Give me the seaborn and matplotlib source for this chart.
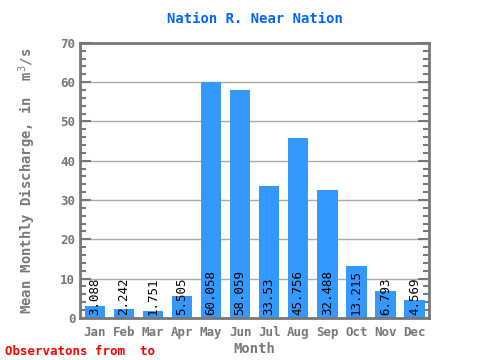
import numpy as np
import pandas as pd
import matplotlib
matplotlib.use('Agg')
import matplotlib.pyplot as plt
import seaborn as sns
from matplotlib.ticker import MultipleLocator

months = ['Jan', 'Feb', 'Mar', 'Apr', 'May', 'Jun', 'Jul', 'Aug', 'Sep', 'Oct', 'Nov', 'Dec']
discharge = [3.088, 2.242, 1.751, 5.505, 60.058, 58.059, 33.53, 45.756, 32.488, 13.215, 6.793, 4.569]
labels = ['3.088', '2.242', '1.751', '5.505', '60.058', '58.059', '33.53', '45.756', '32.488', '13.215', '6.793', '4.569']

df = pd.DataFrame({'Month': months, 'Discharge': discharge})

sns.set_style('white')
plt.rcParams['font.family'] = ['DejaVu Sans Mono']

fig = plt.figure(figsize=(4.8, 3.6), dpi=100)
ax = fig.add_axes([0.167, 0.117, 0.727, 0.764])

# grid under the bars
ax.set_axisbelow(True)
ax.yaxis.grid(True, color='#aaaaaa', linewidth=1)

sns.barplot(data=df, x='Month', y='Discharge', color='#3399ff', saturation=1,
            width=0.7, linewidth=0, ax=ax)

for i, lab in enumerate(labels):
    ax.text(i, 0.8, lab, rotation=90, ha='center', va='bottom',
            fontsize=9, color='black')

ax.set_ylim(0, 70)
ax.set_xlim(-0.5, 11.5)
ax.yaxis.set_major_locator(MultipleLocator(10))
ax.yaxis.set_minor_locator(MultipleLocator(2))
ax.set_xticks(np.arange(12))
ax.set_xticks(np.arange(12) - 0.5, minor=True)
ax.tick_params(axis='y', which='both', direction='in', right=True, left=True,
               color='#777777', width=1.5, labelcolor='#777777', labelsize=9)
ax.tick_params(axis='y', which='major', length=8)
ax.tick_params(axis='y', which='minor', length=4)
ax.tick_params(axis='x', which='major', length=0, labelcolor='#777777', labelsize=9, pad=6)
ax.tick_params(axis='x', which='minor', direction='in', length=4, color='#777777', width=1.5)
for t in ax.get_xticklabels() + ax.get_yticklabels():
    t.set_fontweight('bold')

for s in ax.spines.values():
    s.set_color('#777777')
    s.set_linewidth(2)

ax.set_xlabel('Month', color='#777777', fontsize=10, labelpad=2, fontweight='bold')
ax.set_ylabel('Mean Monthly Discharge, in  m$^3$/s', color='#777777', fontsize=10,
              fontweight='bold', labelpad=16)
ax.set_title('Nation R. Near Nation', color='#0066ff', fontsize=10, pad=14, fontweight='bold')

fig.text(0.01, 0.015, 'Observatons from  to', color='red', fontsize=9, fontweight='bold')

fig.savefig('out.png', dpi=100)
